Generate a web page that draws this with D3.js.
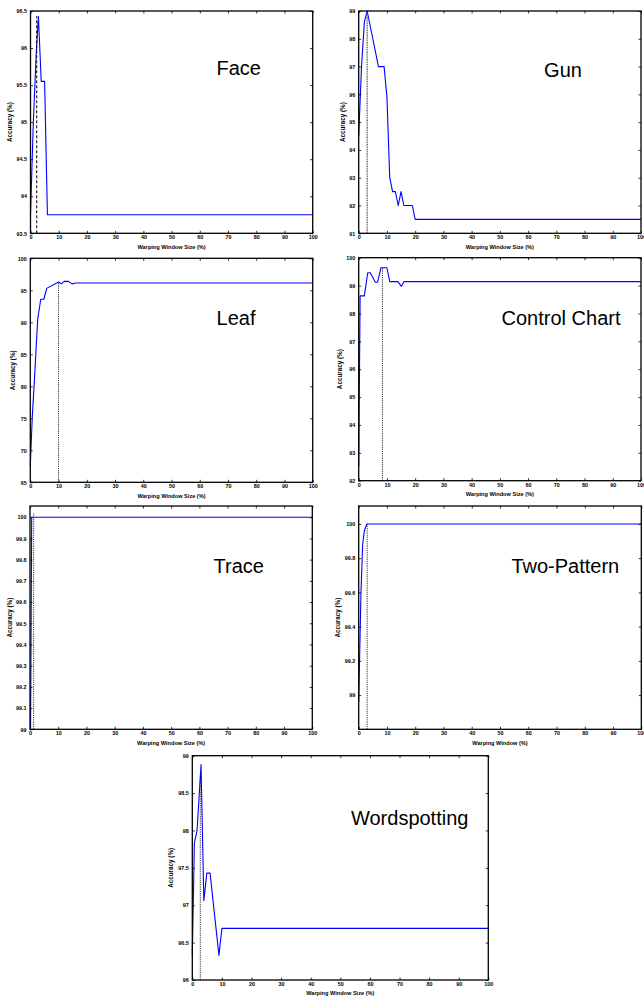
<!DOCTYPE html>
<html><head><meta charset="utf-8">
<script src="https://cdn.jsdelivr.net/npm/d3@7"></script>
<style>
html,body{margin:0;padding:0;background:#fff;}
svg{display:block;font-family:"Liberation Sans",Arial,Helvetica,sans-serif;}
</style></head>
<body>
<svg id="chart" width="644" height="1006"></svg>
<script>
// ---------- data ----------
const xTicks = [0, 10, 20, 30, 40, 50, 60, 70, 80, 90, 100];

const faceX = [0, 1, 2, 2.8, 3.8, 5, 6, 100];
const faceY = [93.75, 95.0, 95.9, 96.43, 95.55, 95.55, 93.75, 93.75];
const faceYTicks = [93.5, 94, 94.5, 95, 95.5, 96, 96.5];
const faceBest = [2.2, 96.43];

const gunX = [0, 1, 2, 3, 7, 9, 10, 11, 12, 13, 14, 15, 16, 19, 20, 100];
const gunY = [94.5, 97, 98.6, 99, 97, 97, 95.9, 93, 92.5, 92.5, 92, 92.5, 92, 92, 91.5, 91.5];
const gunYTicks = [91, 92, 93, 94, 95, 96, 97, 98, 99];
const gunBest = [3, 99];

const leafX = [0, 0.7, 1.4, 2.6, 3.7, 4.8, 5.8, 10, 11, 12, 13.5, 14.8, 16, 100];
const leafY = [67.6, 75.3, 80.5, 90.4, 93.6, 93.6, 95.3, 96.3, 96.0, 96.4, 96.4, 96.0, 96.15, 96.15];
const leafYTicks = [65, 70, 75, 80, 85, 90, 95, 100];
const leafBest = [10, 96.3];

const ccX = [0, 0.5, 2, 3.2, 4.1, 5.9, 6.7, 7.9, 10, 11, 13.9, 15.1, 16, 100];
const ccY = [92.5, 98.63, 98.63, 99.46, 99.46, 99.12, 99.12, 99.64, 99.64, 99.14, 99.14, 98.97, 99.14, 99.14];
const ccYTicks = [92, 93, 94, 95, 96, 97, 98, 99, 100];
const ccBest = [8.4, 99.64];

const traceX = [0.2, 0.6, 100];
const traceY = [99, 100, 100];
const traceYTicks = [99, 99.1, 99.2, 99.3, 99.4, 99.5, 99.6, 99.7, 99.8, 99.9, 100];
const traceBest = [1.3, 100.02];

const tpX = [0, 0.8, 1.4, 2, 2.9, 100];
const tpY = [98.96, 99.6, 99.88, 99.96, 100, 100];
const tpYTicks = [99, 99.2, 99.4, 99.6, 99.8, 100];
const tpBest = [3, 100];

const wsX = [0, 0.7, 1.6, 2.95, 3.9, 4.9, 6, 9, 10, 100];
const wsY = [96.33, 97.83, 98.0, 98.88, 97.06, 97.43, 97.43, 96.33, 96.69, 96.69];
const wsYTicks = [96, 96.5, 97, 97.5, 98, 98.5, 99];
const wsBest = [2.7, 98.7];

const titles = ["Face", "Gun", "Leaf", "Control Chart", "Trace", "Two-Pattern", "Wordspotting"];
const xTitles = ["Warping Window Size (%)", "Warping Window Size (%)", "Warping Window Size (%)",
  "Warping Window Size (%)", "Warping Window Size (%)", "Warping Window (%)", "Warping Window Size (%)"];
const yTitle = "Accuracy (%)";

// ---------- layout (pixels) ----------
const panels = [
  {x: faceX, y: faceY, yt: faceYTicks, dom: [93.5, 96.5], best: faceBest, box: [30.5, 11, 312.7, 233.3], lab: [238.7, 75], yto: 21, dash: "3,2", dcol: "#000", dw: 1},
  {x: gunX, y: gunY, yt: gunYTicks, dom: [91, 99], best: gunBest, box: [358.7, 11, 641, 233.3], lab: [563, 77.3], yto: 16, dash: "1,0.7", dcol: "#555", dw: 1.3},
  {x: leafX, y: leafY, yt: leafYTicks, dom: [65, 100], best: leafBest, box: [30.3, 258.3, 312.7, 482.3], lab: [236, 325], yto: 18, dash: "1.2,1", dcol: "#000", dw: 0.8},
  {x: ccX, y: ccY, yt: ccYTicks, dom: [92, 100], best: ccBest, box: [358.7, 257.7, 641, 480.7], lab: [561, 325], yto: 19.4, dash: "1.2,1", dcol: "#000", dw: 0.8},
  {x: traceX, y: traceY, yt: traceYTicks, dom: [99, 100.053], best: traceBest, box: [30, 506, 312.3, 729.3], lab: [238.7, 572.7], yto: 20.7, dash: "1.2,1", dcol: "#000", dw: 0.8},
  {x: tpX, y: tpY, yt: tpYTicks, dom: [98.8, 100.105], best: tpBest, box: [358.7, 506, 641.3, 729.3], lab: [565.3, 572.7], yto: 21, dash: "1.2,1", dcol: "#000", dw: 0.8},
  {x: wsX, y: wsY, yt: wsYTicks, dom: [96, 99], best: wsBest, box: [192.3, 755.7, 488.3, 980], lab: [409.7, 825], yto: 22, dash: "1.2,1", dcol: "#000", dw: 0.8}
];

const svg = d3.select("#chart");
const fmt = v => String(+v.toFixed(2));

panels.forEach((p, i) => {
  const [x0, y0, x1, y1] = p.box;
  const xs = d3.scaleLinear().domain([0, 100]).range([x0, x1]);
  const ys = d3.scaleLinear().domain(p.dom).range([y1, y0]);
  const g = svg.append("g");

  // data line
  const line = d3.line().x((d, k) => xs(p.x[k])).y((d, k) => ys(p.y[k]));
  g.append("path").datum(p.y).attr("d", line)
    .attr("fill", "none").attr("stroke", "#0000ff").attr("stroke-width", 1.1)
    .attr("stroke-linejoin", "round");

  // best window marker
  g.append("line")
    .attr("x1", xs(p.best[0])).attr("x2", xs(p.best[0]))
    .attr("y1", ys(p.dom[0])).attr("y2", ys(p.best[1]))
    .attr("stroke", p.dcol).attr("stroke-width", p.dw).attr("stroke-dasharray", p.dash);

  // axes (inward ticks, labels)
  const tl = 2.5;
  const ax = g.append("g").attr("transform", `translate(0,${y1})`)
    .call(d3.axisBottom(xs).tickValues(xTicks).tickSize(-tl).tickPadding(2.2).tickFormat(d3.format("d")));
  const axT = g.append("g").attr("transform", `translate(0,${y0})`)
    .call(d3.axisTop(xs).tickValues(xTicks).tickSize(-tl).tickFormat(""));
  const ay = g.append("g").attr("transform", `translate(${x0},0)`)
    .call(d3.axisLeft(ys).tickValues(p.yt).tickSize(-tl).tickPadding(3.5).tickFormat(fmt));
  const ayR = g.append("g").attr("transform", `translate(${x1},0)`)
    .call(d3.axisRight(ys).tickValues(p.yt).tickSize(-tl).tickFormat(""));
  [ax, axT, ay, ayR].forEach(a => {
    a.select(".domain").remove();
    a.selectAll(".tick line").attr("stroke", "#000").attr("stroke-width", 0.8);
    a.selectAll("text").attr("font-size", 5.4).attr("font-weight", "bold").attr("fill", "#000")
      .attr("font-family", "Liberation Sans, Arial, sans-serif");
  });

  // box
  g.append("rect").attr("x", x0).attr("y", y0).attr("width", x1 - x0).attr("height", y1 - y0)
    .attr("fill", "none").attr("stroke", "#000").attr("stroke-width", 1.3);

  // titles
  g.append("text").attr("x", (x0 + x1) / 2).attr("y", y1 + 13.3).attr("dy", "0.35em")
    .attr("text-anchor", "middle").attr("font-size", 5.6).attr("font-weight", "bold").text(xTitles[i]);
  g.append("text").attr("transform", `translate(${x0 - p.yto},${(y0 + y1) / 2}) rotate(-90)`)
    .attr("dy", "0.35em").attr("text-anchor", "middle").attr("font-size", 6.3).attr("font-weight", "bold")
    .text(yTitle);
  g.append("text").attr("x", p.lab[0]).attr("y", p.lab[1]).attr("text-anchor", "middle")
    .attr("font-size", 20).attr("fill", "#000").text(titles[i]);
});
</script>
</body></html>
